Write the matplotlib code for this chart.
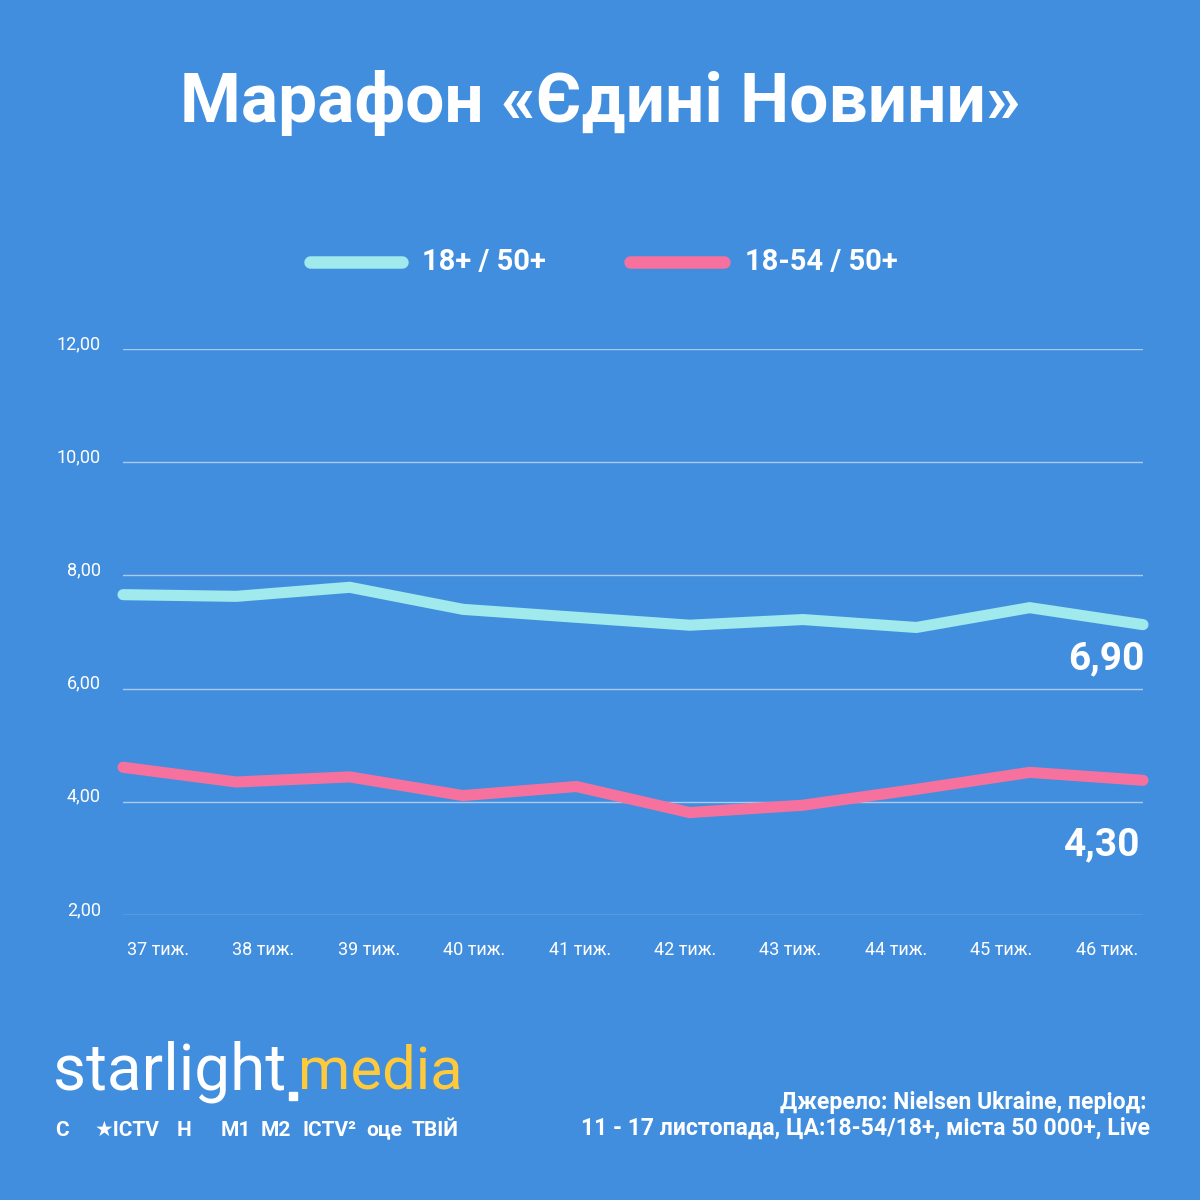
import numpy as np
import matplotlib.pyplot as plt
from matplotlib.patches import Rectangle

# [DATA] ----------------------------------------------------------------------
weeks = ["37 тиж.", "38 тиж.", "39 тиж.", "40 тиж.", "41 тиж.",
         "42 тиж.", "43 тиж.", "44 тиж.", "45 тиж.", "46 тиж."]
share_18plus = [7.66, 7.63, 7.79, 7.40, 7.26, 7.12, 7.22, 7.08, 7.43, 7.13]
share_18_54 = [4.61, 4.35, 4.44, 4.11, 4.27, 3.81, 3.94, 4.22, 4.52, 4.38]
series_names = ["18+ / 50+", "18-54 / 50+"]
last_labels = ["6,90", "4,30"]
y_ticks = [2, 4, 6, 8, 10, 12]
channels = ["С", "★ICTV", "Н", "M1", "M2", "ICTV²", "оце", "ТВІЙ"]

# [STYLE] ---------------------------------------------------------------------
BG = "#428EDE"
CYAN = "#A0E9EC"
PINK = "#F7719F"
YELLOW = "#FFC93C"
plt.rcParams['font.family'] = ['Roboto', 'DejaVu Sans']

fig = plt.figure(figsize=(12, 12), dpi=100, facecolor=BG)

# title
fig.text(0.5, 1 - 103 / 1200, "Марафон «Єдині Новини»", ha="center",
         va="center", fontsize=50, fontweight="bold", color="white")

# custom legend
for x0, x1, tx, col, name in [(310, 402, 422, CYAN, series_names[0]),
                              (630, 724, 745, PINK, series_names[1])]:
    fig.add_artist(plt.Line2D([x0 / 1200, x1 / 1200], [1 - 262 / 1200] * 2,
                              color=col, lw=9, solid_capstyle="round"))
    fig.text(tx / 1200, 1 - 262 / 1200, name, ha="left", va="center",
             fontsize=21, fontweight="bold", color="white")

# [CHART] ---------------------------------------------------------------------
ax = fig.add_axes([123 / 1200, 285 / 1200, 1020 / 1200, 566 / 1200])
ax.set_facecolor(BG)
x = np.arange(len(weeks))
ax.plot(x, share_18plus, color=CYAN, lw=8, solid_capstyle="round",
        solid_joinstyle="miter", clip_on=False, zorder=3)
ax.plot(x, share_18_54, color=PINK, lw=8, solid_capstyle="round",
        solid_joinstyle="miter", clip_on=False, zorder=3)
ax.set_xlim(0, len(weeks) - 1)
ax.set_ylim(2, 12)

for v in y_ticks:
    ax.axhline(v, color="white", alpha=0.55, lw=1, zorder=1)
ax.set_yticks(y_ticks)
ax.set_yticklabels([f"{v},00" for v in y_ticks])
ax.set_xticks(np.linspace(0.31, 8.68, len(weeks)))
ax.set_xticklabels(weeks)
ax.tick_params(length=0, colors="white", labelsize=13)
ax.tick_params(axis="y", pad=16)
ax.tick_params(axis="x", pad=19)
for lab in ax.get_yticklabels():
    lab.set_verticalalignment("baseline")
for s in ax.spines.values():
    s.set_visible(False)

ax.text(len(weeks) - 1 + 0.01, 6.53, last_labels[0], ha="right", va="center",
        fontsize=28, fontweight="bold", color="white")
ax.text(len(weeks) - 1.02, 3.24, last_labels[1], ha="right", va="center",
        fontsize=28, fontweight="bold", color="white")

# [FOOTER] --------------------------------------------------------------------
fig.text(53 / 1200, 1 - 1072 / 1200, "starlight", ha="left", va="center",
         fontsize=46, color="white")
fig.add_artist(Rectangle((289 / 1200, 1 - 1100 / 1200), 8 / 1200, 8 / 1200,
                         color="white", transform=fig.transFigure))
fig.text(298 / 1200, 1 - 1072 / 1200, "media", ha="left", va="center",
         fontsize=43, color=YELLOW)
for cx, name in zip([55, 95, 177, 221, 261, 302, 366, 412], channels):
    fig.text(cx / 1200, 1 - 1130 / 1200, name, ha="left", va="center",
             fontsize=15, fontweight="bold", color="white")

fig.text(1146 / 1200, 1 - 1102 / 1200, "Джерело: Nielsen Ukraine, період:",
         ha="right", va="center", fontsize=16.6, fontweight="bold",
         color="white")
fig.text(1150 / 1200, 1 - 1128 / 1200,
         "11 - 17 листопада, ЦА:18-54/18+, міста 50 000+, Live",
         ha="right", va="center", fontsize=16.6, fontweight="bold",
         color="white")

fig.savefig("out.png", dpi=100, facecolor=BG)
